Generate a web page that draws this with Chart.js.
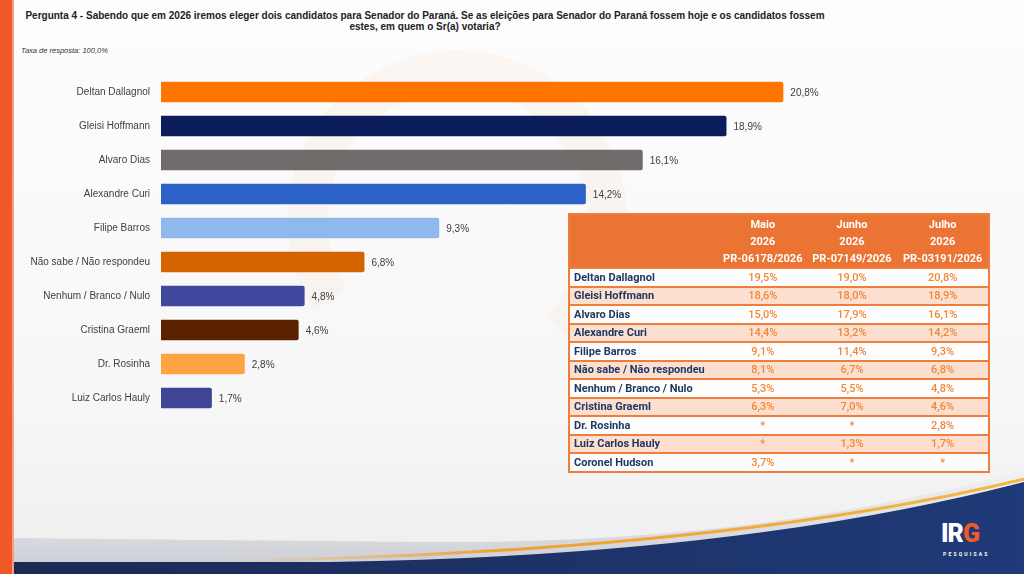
<!DOCTYPE html>
<html>
<head>
<meta charset="utf-8">
<script src="https://cdn.jsdelivr.net/npm/chart.js@4.4.0/dist/chart.umd.min.js"></script>
<style>
  body { margin: 0; background: #fff; }
  #page { position: relative; width: 1024px; height: 574px; overflow: hidden;
          background: linear-gradient(180deg, #fdfdfd 0%, #f7f7f7 70%, #eeeeee 100%);
          font-family: "Liberation Sans", Arial, sans-serif; }
  #bg { position: absolute; left: 0; top: 0; }
  #title { position: absolute; left: 20px; width: 810px; top: 10px; text-align: center;
           font-weight: bold; font-size: 10px; line-height: 11px; color: #222; }
  #rate { position: absolute; left: 21px; top: 46px; font-style: italic; font-size: 7.5px; color: #333; }
  #chartBox { position: absolute; left: 0; top: 58px; width: 909px; height: 374px; }
  #tbl { position: absolute; left: 568px; top: 213px; width: 422px; border-collapse: collapse;
         font-family: Roboto, "Open Sans", sans-serif; font-weight: bold; font-size: 11px; }
  #tbl th { background: #EB7334; color: #fff; font-weight: bold; line-height: 17px; padding: 1px 0 0 0;
            text-align: center; }
  #tbl td { border-top: 2px solid #EF7D3C; height: 16.5px; padding: 0; text-align: center; color: #F0883A; font-weight: 500; }
  #tbl td.nm { text-align: left; padding-left: 4px; color: #1F3864; font-weight: bold; }
  #tbl tr.a td { background: rgba(255,255,255,0.75); }
  #tbl tr.b td { background: #FCDFCF; }
  #tbl { border: 2px solid #EF7D3C; }
  #logo { position: absolute; left: 941px; top: 519px; color: #fff; font-family: Roboto, sans-serif;
          font-weight: 900; font-size: 25px; letter-spacing: -1px; }
  #logo span { color: #F05A28; }
  #logosub { position: absolute; left: 943px; top: 551px; color: #fff; font-family: Roboto, sans-serif;
             font-size: 5px; letter-spacing: 2.2px; font-weight: bold; }
</style>
</head>
<body>
<div id="page">
  <svg id="bg" width="1024" height="574">
    <defs>
      <linearGradient id="gold" x1="0" x2="1" y1="0" y2="0">
        <stop offset="0" stop-color="#f3b25a" stop-opacity="0"/>
        <stop offset="0.35" stop-color="#f0a030"/>
        <stop offset="1" stop-color="#f6b640"/>
      </linearGradient>
      <linearGradient id="navy" x1="0" x2="1" y1="0" y2="0">
        <stop offset="0" stop-color="#1b2a55"/>
        <stop offset="1" stop-color="#1f3a78"/>
      </linearGradient>
      <linearGradient id="grey" x1="0" x2="0" y1="0" y2="1">
        <stop offset="0" stop-color="#f2f2f4"/>
        <stop offset="1" stop-color="#c9ccd3"/>
      </linearGradient>
    </defs>
    <!-- marca d'agua bem clara -->
    <path d="M330,300 A150,150 0 1 1 560,330" fill="none" stroke="#fbe3d8" stroke-width="40" opacity="0.25"/>
    <path d="M12,538 L420,542 Q760,545 1024,470 L1024,574 L12,574 Z" fill="url(#grey)"/>
    <path d="M12,562 L330,562 Q740,556 1024,482 L1024,574 L12,574 Z" fill="url(#navy)"/>
    <path d="M220,561 Q720,553 1024,479" fill="none" stroke="url(#gold)" stroke-width="3"/>
    <rect x="0" y="0" width="12" height="574" fill="#F05A28"/>
    <rect x="12" y="0" width="2" height="574" fill="#f7a07e"/>
  </svg>

  <div id="title">Pergunta 4 - Sabendo que em 2026 iremos eleger dois candidatos para Senador do Paraná. Se as eleições para Senador do Paraná fossem hoje e os candidatos fossem<br>estes, em quem o Sr(a) votaria?</div>
  <div id="rate">Taxa de resposta: 100,0%</div>

  <div id="chartBox"><canvas id="myChart"></canvas></div>

  <table id="tbl"></table>

  <div id="logo">IR<span>G</span></div>
  <div id="logosub">PESQUISAS</div>
</div>

<script>
const candidates = ['Deltan Dallagnol', 'Gleisi Hoffmann', 'Alvaro Dias', 'Alexandre Curi', 'Filipe Barros',
  'Não sabe / Não respondeu', 'Nenhum / Branco / Nulo', 'Cristina Graeml', 'Dr. Rosinha', 'Luiz Carlos Hauly'];
const julhoValues = [20.8, 18.9, 16.1, 14.2, 9.3, 6.8, 4.8, 4.6, 2.8, 1.7];
const barColors = ['#FF7500', '#0B1E5B', '#706C6B', '#2C62C8', '#8FB9EC',
  '#D46400', '#3F4A9E', '#5C2200', '#FFA343', '#3F4596'];

// tabela comparativa
const tableHeaders = [['Maio', '2026', 'PR-06178/2026'], ['Junho', '2026', 'PR-07149/2026'], ['Julho', '2026', 'PR-03191/2026']];
const tableNames = ['Deltan Dallagnol', 'Gleisi Hoffmann', 'Alvaro Dias', 'Alexandre Curi', 'Filipe Barros',
  'Não sabe / Não respondeu', 'Nenhum / Branco / Nulo', 'Cristina Graeml', 'Dr. Rosinha', 'Luiz Carlos Hauly', 'Coronel Hudson'];
const tableMaio  = ['19,5%', '18,6%', '15,0%', '14,4%', '9,1%', '8,1%', '5,3%', '6,3%', '*', '*', '3,7%'];
const tableJunho = ['19,0%', '18,0%', '17,9%', '13,2%', '11,4%', '6,7%', '5,5%', '7,0%', '*', '1,3%', '*'];
const tableJulho = ['20,8%', '18,9%', '16,1%', '14,2%', '9,3%', '6,8%', '4,8%', '4,6%', '2,8%', '1,7%', '*'];

const X_MAX = 25;

const fmt = v => v.toFixed(1).replace('.', ',') + '%';

const tbl = document.getElementById('tbl');
let html = '<colgroup><col style="width:151px"><col style="width:88px"><col style="width:91px"><col style="width:92px"></colgroup>';
html += '<tr><th></th>' + tableHeaders.map(h => `<th>${h.join('<br>')}</th>`).join('') + '</tr>';
tableNames.forEach((n, i) => {
  html += `<tr class="${i % 2 ? 'b' : 'a'}"><td class="nm">${n}</td><td>${tableMaio[i]}</td><td>${tableJunho[i]}</td><td>${tableJulho[i]}</td></tr>`;
});
tbl.innerHTML = html;

// rótulos no fim das barras
const valueLabels = {
  id: 'valueLabels',
  afterDatasetsDraw(chart) {
    const ctx = chart.ctx;
    ctx.save();
    ctx.font = '10px "Liberation Sans", Arial, sans-serif';
    ctx.fillStyle = '#404040';
    ctx.textBaseline = 'middle';
    ctx.textAlign = 'left';
    chart.getDatasetMeta(0).data.forEach((bar, i) => {
      ctx.fillText(fmt(chart.data.datasets[0].data[i]), bar.x + 7, bar.y + 1);
    });
    ctx.restore();
  }
};

const ctxt = document.getElementById('myChart').getContext('2d');
const myChart = new Chart(ctxt, {
  type: 'bar',
  data: {
    labels: candidates,
    datasets: [{
      data: julhoValues,
      backgroundColor: barColors,
      borderRadius: 2,
      borderSkipped: 'start',
      categoryPercentage: 1,
      barPercentage: 0.6
    }]
  },
  options: {
    indexAxis: 'y',
    responsive: true,
    maintainAspectRatio: false,
    animation: false,
    layout: { padding: 0 },
    plugins: { legend: { display: false }, tooltip: { enabled: false } },
    scales: {
      x: { display: false, min: 0, max: X_MAX },
      y: {
        grid: { display: false, drawTicks: false },
        border: { display: false },
        ticks: { color: '#404040', padding: 11, font: { family: '"Liberation Sans", Arial, sans-serif', size: 10 } },
        afterFit: s => { s.width = 161; }
      }
    }
  },
  plugins: [valueLabels]
});
</script>
</body>
</html>
